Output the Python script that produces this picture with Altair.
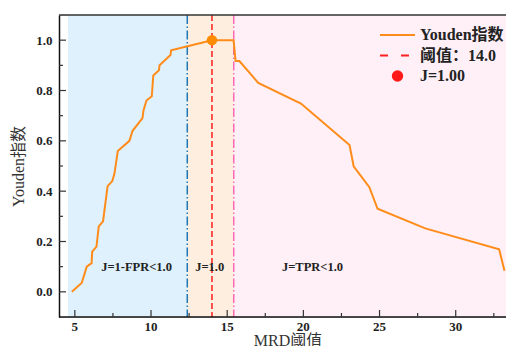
import altair as alt
import pandas as pd

# ---- data ----
thr_x = [4.8, 5.45, 5.78, 6.1, 6.14, 6.42, 6.57, 6.85, 7.15, 7.46, 7.6, 7.82,
         8.58, 8.79, 9.44, 9.5, 9.7, 10.05, 10.15, 10.52, 10.56, 11.28, 11.32,
         12.4, 14.0, 15.42, 15.55, 15.8, 17.04, 19.84, 23.03, 23.3, 24.33,
         24.87, 28.0, 32.85, 33.2]
youden = [0.0, 0.035, 0.10, 0.114, 0.16, 0.18, 0.26, 0.28, 0.42, 0.44, 0.47, 0.56,
          0.60, 0.64, 0.69, 0.72, 0.76, 0.777, 0.86, 0.88, 0.90, 0.941, 0.96,
          0.976, 1.0, 1.0, 0.917, 0.917, 0.83, 0.748, 0.583, 0.499, 0.416,
          0.33, 0.252, 0.169, 0.084]

best_thr = [14.0]
best_j = [1.0]

region_start = [4.55, 12.38, 15.43]
region_end = [12.38, 15.43, 33.3]
region_color = ["#dff1fd", "#fdeee0", "#fff0f7"]

boundary_left = [12.38]
boundary_right = [15.43]

ann_text = ["J=1-FPR<1.0", "J=1.0", "J=TPR<1.0"]
ann_x = [9.05, 13.85, 20.6]
ann_y = [0.10, 0.10, 0.10]

legend_labels = ["Youden指数", "阈值：14.0", "J=1.00"]
legend_rows = [0, 1, 2]

x_title = ["MRD阈值"]
x_major = [5, 10, 15, 20, 25, 30]
x_minor = [7.5, 12.5, 17.5, 22.5, 27.5, 32.5]
y_major = [0.0, 0.2, 0.4, 0.6, 0.8, 1.0]
y_minor = [0.1, 0.3, 0.5, 0.7, 0.9]

XDOM = [3.96, 33.3]
YDOM = [-0.1, 1.1]
W, H = 447, 302

SERIF = "Liberation Serif, Noto Sans CJK SC"

curve = pd.DataFrame({"x": thr_x, "y": youden})
best = pd.DataFrame({"x": best_thr, "y": best_j})
regions = pd.DataFrame({"x": region_start, "x2": region_end, "c": region_color})
ann = pd.DataFrame({"t": ann_text, "x": ann_x, "y": ann_y})

xs = alt.Scale(domain=XDOM, nice=False, zero=False)
ys = alt.Scale(domain=YDOM, nice=False, zero=False)

y_axis = alt.Axis(title="Youden指数", values=y_major, ticks=False, grid=False,
                  format=".1f",
                  labelFont=SERIF, labelFontWeight="bold", labelFontSize=13,
                  labelColor="#222", labelPadding=7, domainColor="#111",
                  domainWidth=1.5, titleFont=SERIF, titleFontWeight="normal",
                  titleFontSize=16, titleColor="#333", titlePadding=9)

rects = alt.Chart(regions).mark_rect().encode(
    x=alt.X("x:Q", scale=xs, axis=None),
    x2="x2:Q",
    color=alt.Color("c:N", scale=None),
)

vline_blue = alt.Chart(pd.DataFrame({"x": boundary_left})).mark_rule(
    color="#1f77b4", strokeWidth=1.5, strokeDash=[9, 2.5, 1.5, 2.5]
).encode(x=alt.X("x:Q", scale=xs, axis=None))

vline_pink = alt.Chart(pd.DataFrame({"x": boundary_right})).mark_rule(
    color="#ff69b4", strokeWidth=1.5, strokeDash=[9, 2.5, 1.5, 2.5]
).encode(x=alt.X("x:Q", scale=xs, axis=None))

vline_red = alt.Chart(best).mark_rule(
    color="#ff2020", strokeWidth=1.5, strokeDash=[6, 3]
).encode(x=alt.X("x:Q", scale=xs, axis=None))

line = alt.Chart(curve).mark_line(color="#ff8c1a", strokeWidth=2, clip=True).encode(
    x=alt.X("x:Q", scale=xs, axis=None),
    y=alt.Y("y:Q", scale=ys, axis=y_axis),
)

dot = alt.Chart(best).mark_point(filled=True, color="#ff8c00", size=110, opacity=1).encode(
    x=alt.X("x:Q", scale=xs, axis=None), y=alt.Y("y:Q", scale=ys, axis=None))

texts = alt.Chart(ann).mark_text(font=SERIF, fontWeight="bold", fontSize=12.5,
                                 color="#222").encode(
    x=alt.X("x:Q", scale=xs, axis=None), y=alt.Y("y:Q", scale=ys, axis=None), text="t:N")

# x axis: baseline, inward ticks, labels and title
x_base = alt.Chart(pd.DataFrame({"a": [0]})).mark_rule(color="#111", strokeWidth=1.5).encode(
    x=alt.value(0), x2=alt.value(W), y=alt.value(H))
xt_major = alt.Chart(pd.DataFrame({"v": x_major})).mark_rule(color="#333", strokeWidth=1.2).encode(
    x=alt.X("v:Q", scale=xs, axis=None), y=alt.value(H), y2=alt.value(H - 7))
xt_minor = alt.Chart(pd.DataFrame({"v": x_minor})).mark_rule(color="#333", strokeWidth=1.2).encode(
    x=alt.X("v:Q", scale=xs, axis=None), y=alt.value(H), y2=alt.value(H - 4))
x_labels = alt.Chart(pd.DataFrame({"v": x_major})).mark_text(
    font=SERIF, fontWeight="bold", fontSize=13, color="#222", baseline="middle").encode(
    x=alt.X("v:Q", scale=xs, axis=None), y=alt.value(H + 10), text="v:Q")
x_title_mark = alt.Chart(pd.DataFrame({"t": x_title})).mark_text(
    font=SERIF, fontSize=16, color="#333", baseline="alphabetic").encode(
    x=alt.value(229), y=alt.value(H + 28.5), text="t:N")

yt_major = alt.Chart(pd.DataFrame({"v": y_major})).mark_rule(color="#333", strokeWidth=1.2).encode(
    y=alt.Y("v:Q", scale=ys, axis=None), x=alt.value(0), x2=alt.value(7))
yt_minor = alt.Chart(pd.DataFrame({"v": y_minor})).mark_rule(color="#333", strokeWidth=1.2).encode(
    y=alt.Y("v:Q", scale=ys, axis=None), x=alt.value(0), x2=alt.value(4))

# top frame line (right side of the reference is cropped)
top_frame = alt.Chart(pd.DataFrame({"a": [0]})).mark_rule(color="#333", strokeWidth=1.5).encode(
    x=alt.value(0), x2=alt.value(W), y=alt.value(0))

# manual legend (top right)
leg = pd.DataFrame({"t": legend_labels, "row": legend_rows})
LX0, LX1, LT = 321, 356, 361
LY = [20, 61]
leg_line = alt.Chart(pd.DataFrame({"a": [0]})).mark_rule(color="#ff8c1a", strokeWidth=2).encode(
    x=alt.value(LX0), x2=alt.value(LX1), y=alt.value(20))
leg_dash = alt.Chart(pd.DataFrame({"a": [0]})).mark_rule(
    color="#ff2020", strokeWidth=2, strokeDash=[8, 13]).encode(
    x=alt.value(LX0), x2=alt.value(LX1), y=alt.value(40.5))
leg_dot = alt.Chart(pd.DataFrame({"a": [0]})).mark_point(
    filled=True, color="#ff1a1a", size=130, opacity=1).encode(
    x=alt.value((LX0 + LX1) / 2), y=alt.value(61))
leg_text = alt.Chart(leg).mark_text(font=SERIF, fontWeight="bold", fontSize=16,
                                    color="#222", align="left", baseline="middle").encode(
    x=alt.value(LT),
    y=alt.Y("row:Q", scale=alt.Scale(domain=[0, 2], range=LY), axis=None),
    text="t:N")

chart = alt.layer(
    rects, vline_blue, vline_pink, vline_red, line, dot, texts,
    x_base, xt_major, xt_minor, x_labels, x_title_mark,
    yt_major, yt_minor, top_frame,
    leg_line, leg_dash, leg_dot, leg_text,
).resolve_scale(y="independent").properties(
    width=W, height=H,
    autosize=alt.AutoSizeParams(type="none"),
    padding={"left": 51, "top": 7, "right": 0, "bottom": 29},
).configure_view(stroke=None).configure(background="white")

chart.save("out.html", embed_options={"renderer": "svg", "actions": False})
